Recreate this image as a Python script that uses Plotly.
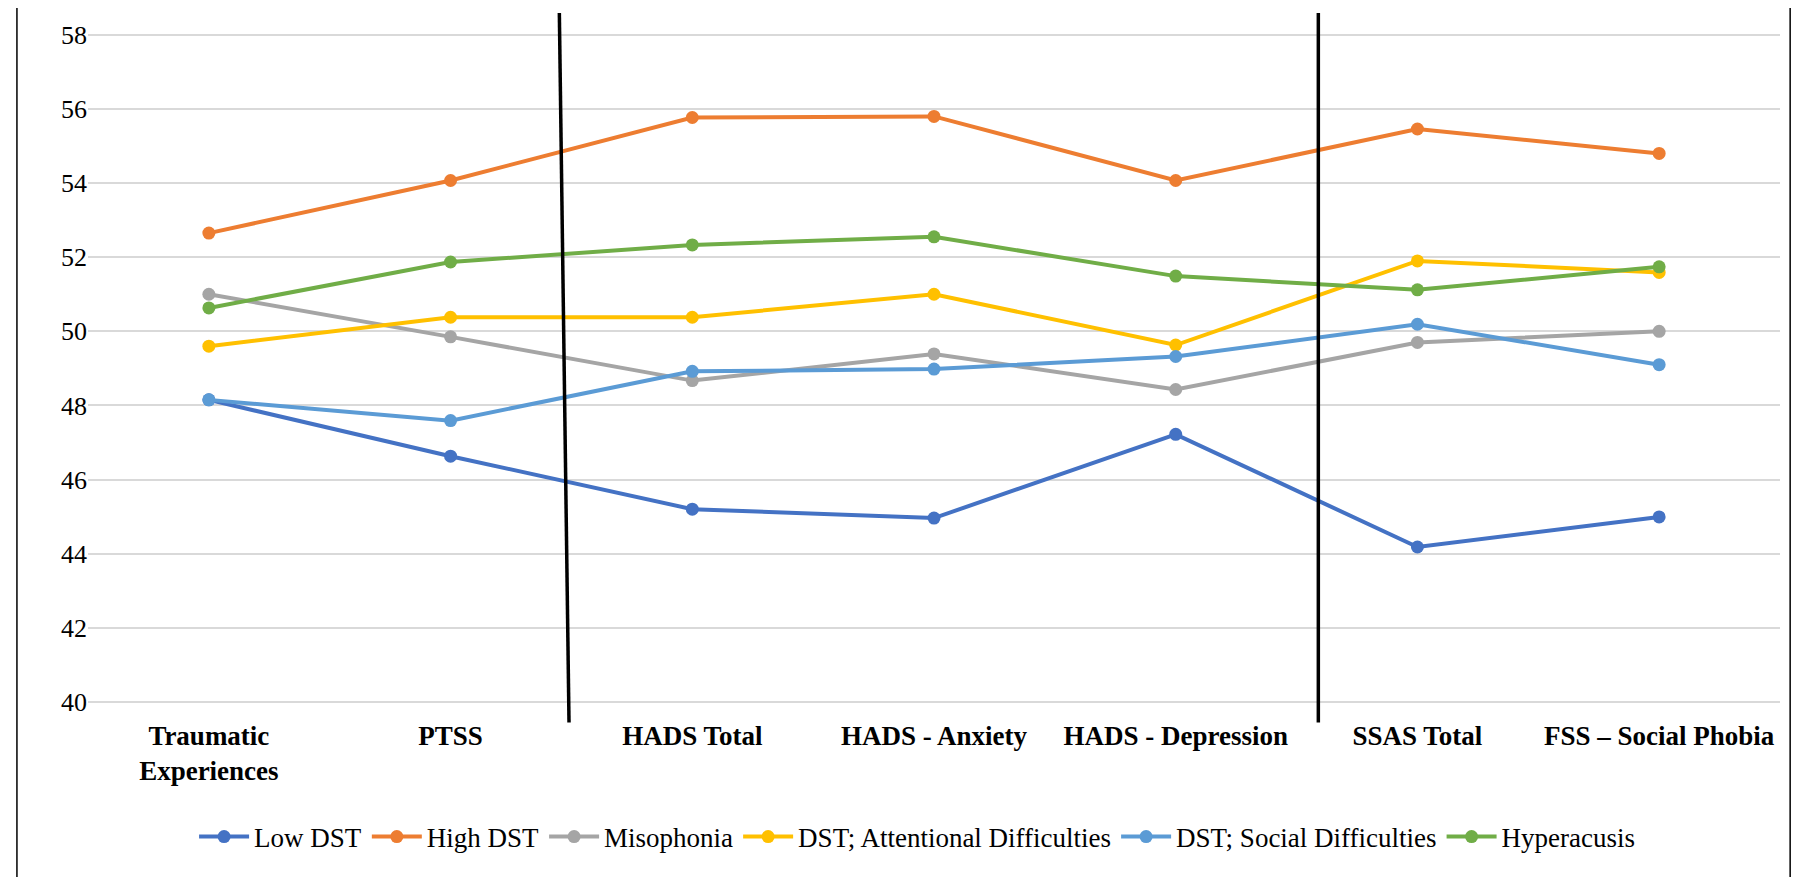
import plotly.graph_objects as go

categories = ["Traumatic<br>Experiences", "PTSS", "HADS Total", "HADS - Anxiety",
              "HADS - Depression", "SSAS Total", "FSS – Social Phobia"]
low_dst = [48.15, 46.63, 45.2, 44.96, 47.22, 44.18, 44.99]
high_dst = [52.65, 54.07, 55.77, 55.8, 54.07, 55.46, 54.8]
misophonia = [51.0, 49.85, 48.67, 49.39, 48.43, 49.7, 50.0]
attentional = [49.6, 50.38, 50.38, 51.0, 49.63, 51.9, 51.59]
social = [48.15, 47.59, 48.92, 48.98, 49.32, 50.19, 49.1]
hyperacusis = [50.63, 51.87, 52.33, 52.55, 51.49, 51.12, 51.74]

series = [("Low DST", low_dst, "#4472C4"), ("High DST", high_dst, "#ED7D31"),
          ("Misophonia", misophonia, "#A5A5A5"),
          ("DST; Attentional Difficulties", attentional, "#FFC000"),
          ("DST; Social Difficulties", social, "#5B9BD5"),
          ("Hyperacusis", hyperacusis, "#70AD47")]

fig = go.Figure()
for name, vals, col in series:
    fig.add_trace(go.Scatter(x=list(range(len(categories))), y=vals, name=name,
                             mode="lines+markers", line=dict(color=col, width=4),
                             marker=dict(size=13, color=col)))

serif = "Liberation Serif"
fig.update_layout(
    width=1802, height=877, plot_bgcolor="white", paper_bgcolor="white",
    margin=dict(l=80, r=30, t=25, b=182),
    font=dict(family=serif, size=27, color="black"),
    xaxis=dict(range=[-0.5, 6.5], tickmode="array", tickvals=list(range(7)),
               ticktext=[f"<b>{c}</b>" for c in categories], showgrid=False,
               zeroline=False, tickfont=dict(family=serif, size=27), ticklabelstandoff=14),
    yaxis=dict(range=[39.97, 58.05], tickvals=list(range(40, 59, 2)), gridcolor="#D9D9D9",
               gridwidth=1.5, zeroline=False, tickfont=dict(family=serif, size=26), ticks=""),
    legend=dict(orientation="h", x=0.49, xanchor="center", y=-0.2, yanchor="middle",
                font=dict(family=serif, size=27), itemwidth=50),
    shapes=[
        dict(type="line", xref="x", yref="paper", x0=1.45, x1=1.49, y0=1.03, y1=-0.029,
             line=dict(color="black", width=3.5)),
        dict(type="line", xref="x", yref="paper", x0=4.59, x1=4.59, y0=1.03, y1=-0.029,
             line=dict(color="black", width=3.5)),
        dict(type="rect", xref="paper", yref="paper", x0=-0.042, x1=1.006,
             y0=-0.3, y1=1.06, line=dict(color="black", width=1.5)),
    ],
)
fig.write_html("out.html")
